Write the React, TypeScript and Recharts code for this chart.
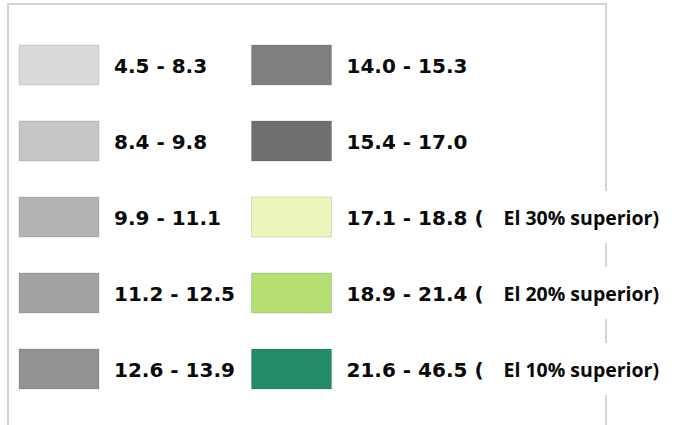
import React from 'react';
import { ScatterChart, Scatter, XAxis, YAxis } from 'recharts';

const rangeLabels = [
  '4.5 - 8.3', '8.4 - 9.8', '9.9 - 11.1', '11.2 - 12.5', '12.6 - 13.9',
  '14.0 - 15.3', '15.4 - 17.0', '17.1 - 18.8 (', '18.9 - 21.4 (', '21.6 - 46.5 (',
];
const swatchColors = [
  '#dadada', '#c6c6c6', '#b4b4b4', '#a3a3a3', '#939393',
  '#7f7f7f', '#6f6f6f', '#ecf6bb', '#b5df72', '#238a6a',
];
const notes = ['', '', '', '', '', '', '', 'El 30% superior)', 'El 20% superior)', 'El 10% superior)'];
const columnIndex = [0, 0, 0, 0, 0, 1, 1, 1, 1, 1];
const rowIndex = [0, 1, 2, 3, 4, 0, 1, 2, 3, 4];

const items = rangeLabels.map((label, i) => ({
  col: columnIndex[i],
  row: rowIndex[i],
  label,
  color: swatchColors[i],
  note: notes[i],
}));
const noteItems = items.filter((d) => d.note);

const SwatchShape = (props: any) => {
  const { cx, cy, payload } = props;
  return (
    <g>
      <rect x={cx - 40} y={cy - 20} width={80} height={40} fill={payload.color} stroke="rgba(0,0,0,0.12)" strokeWidth={1} />
      <text x={cx + 55} y={cy + 1} dominantBaseline="central" fontFamily="'DejaVu Sans', Verdana, sans-serif" fontWeight="bold" fontSize={20} fill="#0a0a0a">
        {payload.label}
      </text>
    </g>
  );
};

const NoteShape = (props: any) => {
  const { cx, cy, payload } = props;
  return (
    <g>
      <rect x={cx + 200} y={cy - 26} width={175} height={52} fill="#ffffff" />
      <text x={cx + 212} y={cy} dominantBaseline="central" fontFamily="'Open Sans', sans-serif" fontWeight="bold" fontSize={19.5} fill="#0a0a0a">
        {payload.note}
      </text>
    </g>
  );
};

export default function App() {
  return (
    <div style={{ position: 'absolute', left: 0, top: 0, width: 677, height: 425, overflow: 'hidden', background: '#fff' }}>
      <div style={{ position: 'absolute', left: 7, top: 3, width: 600, height: 500, boxSizing: 'border-box', border: '2px solid #d4d4d4' }} />
      <div style={{ position: 'absolute', left: 0, top: 0 }}>
        <ScatterChart width={677} height={425} margin={{ top: 65, right: 385.5, bottom: 56, left: 59 }}>
          <XAxis type="number" dataKey="col" domain={[0, 1]} hide />
          <YAxis type="number" dataKey="row" domain={[0, 4]} reversed hide />
          <Scatter data={items} shape={SwatchShape} isAnimationActive={false} />
          <Scatter data={noteItems} shape={NoteShape} isAnimationActive={false} />
        </ScatterChart>
      </div>
    </div>
  );
}
